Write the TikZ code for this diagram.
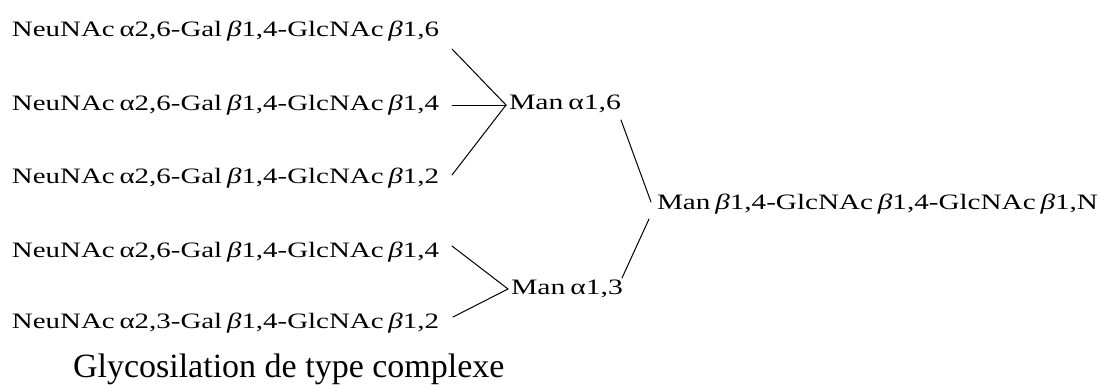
\documentclass[tikz,border=0pt]{standalone}
\usepackage{fontspec}
\setmainfont{Liberation Serif}
\usepackage{graphicx}
\newcommand{\fitw}[2]{\resizebox{#1}{\height}{#2}}
\newcommand{\al}{\,α}
\newcommand{\bt}{\,\textit{β}}
\begin{document}
\begin{tikzpicture}[x=1pt,y=-1pt,
  lbl/.style={anchor=base west,inner sep=0pt,outer sep=0pt,font=\fontsize{22}{26}\selectfont},
  ttl/.style={anchor=base west,inner sep=0pt,outer sep=0pt,font=\fontsize{34}{40}\selectfont},
  link/.style={line width=1pt,line cap=round}]
\useasboundingbox (0,0) rectangle (1100,388);
% sugar chains
\node[lbl] (r1) at (12,36)  {\fitw{427pt}{NeuNAc\al2,6-Gal\bt1,4-GlcNAc\bt1,6}};
\node[lbl] (r2) at (12,110) {\fitw{427pt}{NeuNAc\al2,6-Gal\bt1,4-GlcNAc\bt1,4}};
\node[lbl] (r3) at (12,183) {\fitw{427pt}{NeuNAc\al2,6-Gal\bt1,4-GlcNAc\bt1,2}};
\node[lbl] (r4) at (12,257) {\fitw{427pt}{NeuNAc\al2,6-Gal\bt1,4-GlcNAc\bt1,4}};
\node[lbl] (r5) at (12,328) {\fitw{427pt}{NeuNAc\al2,3-Gal\bt1,4-GlcNAc\bt1,2}};
\node[lbl] (m6) at (509,109) {\fitw{112pt}{Man\al1,6}};
\node[lbl] (m3) at (511,294) {\fitw{112pt}{Man\al1,3}};
\node[lbl] (mb) at (657,209) {\fitw{441pt}{Man\bt1,4-GlcNAc\bt1,4-GlcNAc\bt1,N}};
\node[ttl] (title) at (73,377) {Glycosilation de type complexe};
% connector end points
\coordinate (r1o) at (452,49);
\coordinate (r2o) at (452,105);
\coordinate (r3o) at (452,175);
\coordinate (m6i) at (506,105);
\coordinate (m6o) at (621,120);
\coordinate (r4o) at (452,246);
\coordinate (r5o) at (453,317);
\coordinate (m3i) at (508,289);
\coordinate (m3o) at (622,278);
\coordinate (mbi1) at (651,202);
\coordinate (mbi2) at (649,219);
% connectors
\draw[link] (r1o) -- (m6i);
\draw[link] (r2o) -- (m6i);
\draw[link] (r3o) -- (m6i);
\draw[link] (r4o) -- (m3i);
\draw[link] (r5o) -- (m3i);
\draw[link] (m6o) -- (mbi1);
\draw[link] (m3o) -- (mbi2);
\end{tikzpicture}
\end{document}
